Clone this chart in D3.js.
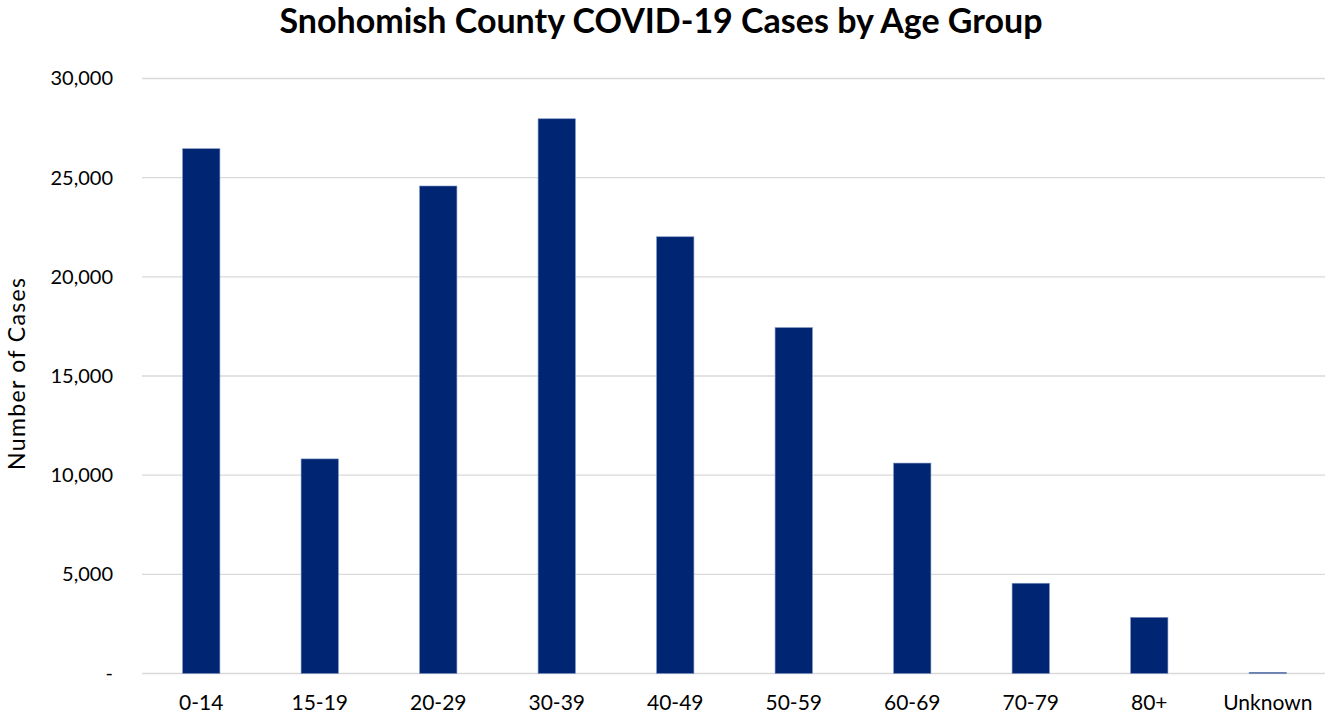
<!DOCTYPE html>
<html>
<head>
<meta charset="utf-8">
<script src="https://cdn.jsdelivr.net/npm/d3@7"></script>
<style>
  body { margin: 0; background: #fff; }
  text { font-family: Lato, "Open Sans", sans-serif; fill: #000; }
</style>
</head>
<body>
<div id="mount"></div>
<script>
'use strict';

// age groups and case counts
const ageGroups = ['0-14', '15-19', '20-29', '30-39', '40-49', '50-59', '60-69', '70-79', '80+', 'Unknown'];
const cases = [26460, 10820, 24580, 27970, 22020, 17440, 10610, 4550, 2830, 60];
const yTicks = [0, 5000, 10000, 15000, 20000, 25000, 30000];

const W = 1325, H = 719;
const margin = { top: 78.5, left: 142, bottom: 45.5, right: -2 },
      width = W - margin.left - margin.right,
      height = H - margin.top - margin.bottom;

const svg = d3.select('#mount').append('svg')
    .attr('width', W)
    .attr('height', H);

const graph = svg.append('g')
    .attr('transform', `translate(${margin.left}, ${margin.top})`);

const x = d3.scaleBand()
    .domain(ageGroups)
    .range([0, width])
    .paddingInner(0.685)
    .paddingOuter(0.3425);

const y = d3.scaleLinear()
    .domain([0, 30000])
    .range([height, 0]);

// horizontal gridlines
graph.selectAll('line.grid')
    .data(yTicks)
  .enter().append('line')
    .attr('class', 'grid')
    .attr('x1', 0)
    .attr('x2', width)
    .attr('y1', d => y(d))
    .attr('y2', d => y(d))
    .style('stroke', '#d9d9d9')
    .style('stroke-width', 1.3);

// y axis labels
const yAxis = d3.axisLeft(y)
    .tickValues(yTicks)
    .tickSize(0)
    .tickPadding(29)
    .tickFormat(d => d === 0 ? '-  ' : d3.format(',')(d));

graph.append('g')
    .call(yAxis)
    .call(g => g.select('.domain').remove())
    .selectAll('text')
    .style('font-size', '20px')
    .style('font-family', 'Lato, "Open Sans", sans-serif')
    .attr('fill', '#000');

// bars
graph.selectAll('rect.bar')
    .data(cases)
  .enter().append('rect')
    .attr('class', 'bar')
    .attr('x', (d, i) => x(ageGroups[i]))
    .attr('width', x.bandwidth())
    .attr('y', d => y(d))
    .attr('height', d => height - y(d))
    .style('fill', '#002673')
    .style('stroke', '#7f93c0')
    .style('stroke-width', 0.6);

// x axis labels
const xAxis = d3.axisBottom(x)
    .tickSize(0)
    .tickPadding(22);

graph.append('g')
    .attr('transform', `translate(0, ${height})`)
    .call(xAxis)
    .call(g => g.select('.domain').remove())
    .selectAll('text')
    .style('font-size', '21px')
    .style('font-family', 'Lato, "Open Sans", sans-serif')
    .attr('fill', '#000');

// title
svg.append('text')
    .attr('x', 661)
    .attr('y', 33)
    .attr('text-anchor', 'middle')
    .style('font-size', '34px')
    .style('font-weight', 'bold')
    .text('Snohomish County COVID-19 Cases by Age Group');

// y axis title
svg.append('text')
    .attr('transform', 'translate(25, 374) rotate(-90)')
    .attr('text-anchor', 'middle')
    .attr('textLength', 192)
    .style('font-size', '23px')
    .text('Number of Cases');
</script>
</body>
</html>
